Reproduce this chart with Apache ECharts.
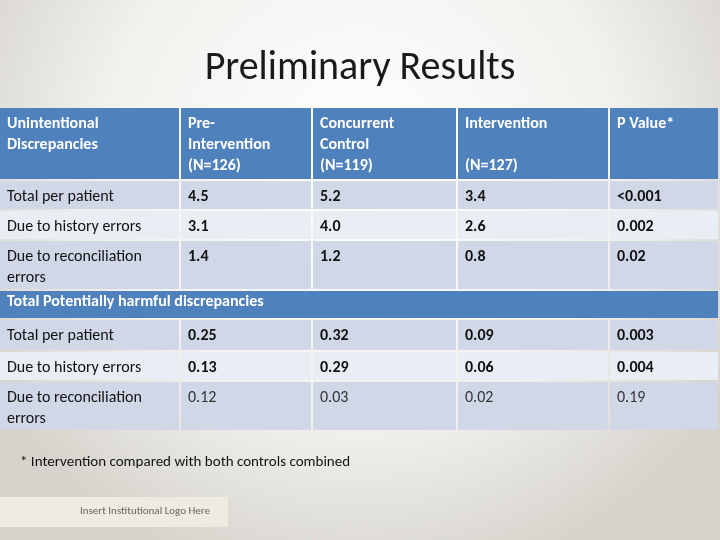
<!DOCTYPE html>
<html><head><meta charset="utf-8">
<script src="https://cdn.jsdelivr.net/npm/echarts@6/dist/echarts.min.js"></script>
<style>html,body{margin:0;padding:0}#main{width:720px;height:540px}</style>
</head><body><div id="main"></div>
<script>
var headers = ['Unintentional\nDiscrepancies', 'Pre-\nIntervention\n(N=126)', 'Concurrent\nControl\n(N=119)', 'Intervention\n\n(N=127)', 'P Value*'];
var rowLabels = ['Total per patient', 'Due to history errors', 'Due to reconciliation\nerrors'];
var unintentional = [
  ['4.5', '5.2', '3.4', '<0.001'],
  ['3.1', '4.0', '2.6', '0.002'],
  ['1.4', '1.2', '0.8', '0.02']
];
var sectionTitle = 'Total Potentially harmful discrepancies';
var harmful = [
  ['0.25', '0.32', '0.09', '0.003'],
  ['0.13', '0.29', '0.06', '0.004'],
  ['0.12', '0.03', '0.02', '0.19']
];

var chart = echarts.init(document.getElementById('main'));
var font = 'Carlito, "Liberation Sans Narrow", "DejaVu Sans Condensed", sans-serif';
var colX = [0, 181, 313, 458, 610, 720];
var els = [];

function cell(x0, x1, y0, y1, fill, txt, style) {
  els.push({type: 'rect', shape: {x: x0, y: y0, width: x1 - x0, height: y1 - y0}, style: {fill: fill}});
  els.push({type: 'text', x: x0 + 7, y: y0 + 5, style: {text: txt, font: style.font, fill: style.fill, lineHeight: 21}});
}

// header
var hdr = [108, 179];
for (var c = 0; c < 5; c++) {
  cell(colX[c], colX[c + 1] - 2, hdr[0], hdr[1], '#4F81BD', headers[c], {font: 'bold 16px ' + font, fill: '#fff'});
}
function block(rows, data, fills, bolds) {
  for (var r = 0; r < rows.length; r++) {
    var y0 = rows[r][0], y1 = rows[r][1];
    cell(colX[0], colX[1] - 2, y0, y1, fills[r], rowLabels[r], {font: '16px ' + font, fill: '#111'});
    for (var c = 0; c < 4; c++) {
      cell(colX[c + 1], colX[c + 2] - 2, y0, y1, fills[r], data[r][c],
        {font: (bolds[r] ? 'bold ' : '') + '16px ' + font, fill: bolds[r] ? '#111' : '#333'});
    }
  }
}
block([[181, 209], [211, 239], [241, 289]], unintentional, ['#D0D8E8', '#E9EDF4', '#D0D8E8'], [true, true, true]);
els.push({type: 'rect', shape: {x: 0, y: 291, width: 718, height: 27}, style: {fill: '#4F81BD'}});
els.push({type: 'text', x: 7, y: 294, style: {text: sectionTitle, font: 'bold 16px ' + font, fill: '#fff'}});
block([[320, 350], [352, 380], [382, 430]], harmful, ['#D0D8E8', '#E9EDF4', '#D0D8E8'], [true, true, false]);

// footnote and logo box
els.push({type: 'text', x: 20, y: 455, style: {text: '* Intervention compared with both controls combined', font: '15px ' + font, fill: '#111'}});
els.push({type: 'rect', shape: {x: 0, y: 497, width: 228, height: 30}, style: {fill: '#EEEBE2'}});
els.push({type: 'text', x: 80, y: 506, style: {text: 'Insert Institutional Logo Here', font: '11px ' + font, fill: '#666'}});

chart.setOption({
  backgroundColor: new echarts.graphic.RadialGradient(0.5, 0.3, 0.8, [
    {offset: 0, color: '#FFFFFF'}, {offset: 0.6, color: '#F2F1EE'}, {offset: 1, color: '#D6D3CC'}
  ]),
  title: {text: 'Preliminary Results', left: 'center', top: 44,
    textStyle: {fontFamily: font, fontSize: 40, fontWeight: 'normal', color: '#1a1a1a'}},
  graphic: els
});
</script></body></html>
